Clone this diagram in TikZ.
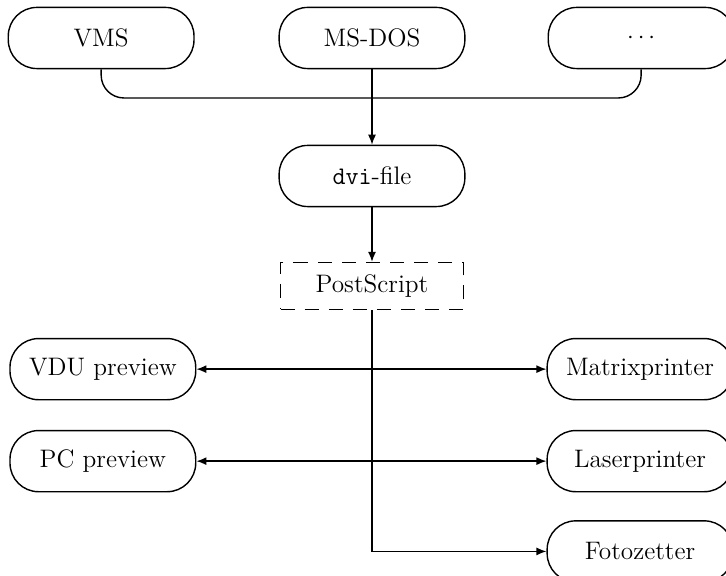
\documentclass[tikz,border=0pt]{standalone}
\usetikzlibrary{arrows}
\usetikzlibrary{arrows.meta}
\usetikzlibrary{calc}
\usepackage{xcolor}

\begin{document}
\begin{tikzpicture}[
    box/.style={draw, line width=0.7pt, rounded corners=0.5cm, minimum width=3.25cm, minimum height=1.07cm, font=\fontsize{12.6}{15}\selectfont},
    psbox/.style={draw, line width=0.7pt, dash pattern=on 7pt off 5pt, minimum width=3.2cm, minimum height=0.82cm, font=\fontsize{12.6}{15}\selectfont},
    conn/.style={line width=0.7pt},
    tip/.style={-{Latex[length=5pt,width=4pt]}}
  ]
      \useasboundingbox (0,0) rectangle (12.705,10.08);

      % Systems
      \node[box] (vms) at (1.77,9.415) {VMS};
      \node[box] (msdos) at (6.51,9.415) {MS-DOS};
      \node[box] (dots) at (11.22,9.415) {$\cdots$};
      \coordinate (bus) at (6.51,8.365);

      % Files
      \node[box] (dvi) at (6.51,7.0) {\texttt{dvi}-file};
      \node[psbox] (ps) at (6.51,5.075) {PostScript};

      % Output devices
      \node[box] (vdu) at (1.8,3.62) {VDU preview};
      \node[box] (pc) at (1.8,2.01) {PC preview};
      \node[box] (matrix) at (11.2,3.62) {Matrixprinter};
      \node[box] (laser) at (11.2,2.01) {Laserprinter};
      \node[box] (foto) at (11.2,0.43) {Fotozetter};

      % Connections
      \draw[conn, rounded corners=0.4cm] (vms.south) |- (bus) -| (dots.south);
      \draw[conn, tip] (msdos.south) -- (dvi.north);
      \draw[conn, tip] (dvi.south) -- (ps.north);
      \draw[conn, tip] (ps.south) |- (foto.west);
      \draw[conn, {Latex[length=5pt,width=4pt]}-{Latex[length=5pt,width=4pt]}] (vdu.east) -- (matrix.west);
      \draw[conn, {Latex[length=5pt,width=4pt]}-{Latex[length=5pt,width=4pt]}] (pc.east) -- (laser.west);

\end{tikzpicture}
\end{document}
